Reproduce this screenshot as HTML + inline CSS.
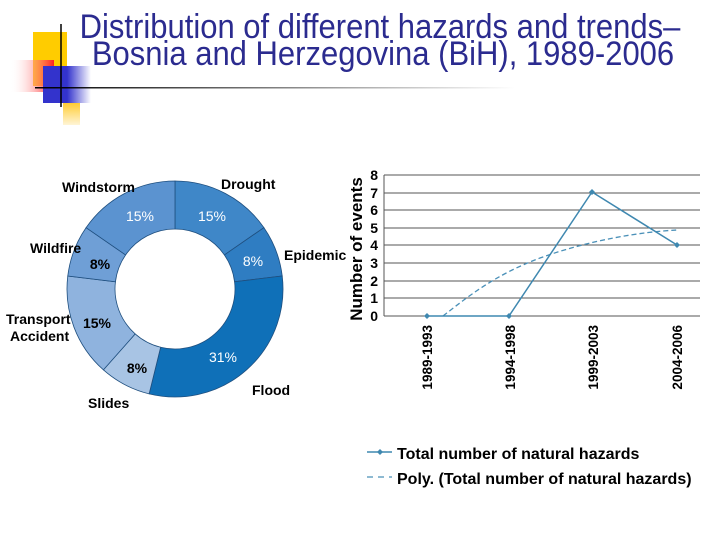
<!DOCTYPE html><html><head><meta charset="utf-8"><style>
body{margin:0;width:720px;height:540px;background:#fff;overflow:hidden;font-family:"Liberation Sans",sans-serif}
</style></head><body>
<svg width="720" height="540" xmlns="http://www.w3.org/2000/svg" font-family="Liberation Sans, sans-serif">
<defs>
<linearGradient id="rg" x1="0" x2="1"><stop offset="0" stop-color="#fff" stop-opacity="0"/><stop offset="1" stop-color="#f22"/></linearGradient>
<linearGradient id="bg" x1="0" x2="1"><stop offset="0.5" stop-color="#3333cc"/><stop offset="1" stop-color="#3333cc" stop-opacity="0"/></linearGradient>
<linearGradient id="yg" x1="0" y1="0" x2="0" y2="1"><stop offset="0" stop-color="#fc3"/><stop offset="1" stop-color="#fc3" stop-opacity="0.2"/></linearGradient>
<linearGradient id="hl" x1="0" x2="1"><stop offset="0" stop-color="#000"/><stop offset="1" stop-color="#000" stop-opacity="0"/></linearGradient>
</defs>
<rect x="33" y="32" width="34" height="54" fill="#fc0"/>
<rect x="63" y="103" width="17" height="22" fill="url(#yg)"/>
<rect x="10" y="60" width="44" height="32" fill="url(#rg)"/>
<rect x="43" y="66" width="48" height="37" fill="url(#bg)"/>
<line x1="61" y1="24" x2="61" y2="107" stroke="#000" stroke-width="1.5"/>
<rect x="35" y="87" width="480" height="1.5" fill="url(#hl)"/>
<g fill="#2b2b8f" font-size="31" text-anchor="middle">
<text transform="translate(380,38) scale(1,1.1)">Distribution of different hazards and trends–</text>
<text transform="translate(383,65) scale(1,1.1)">Bosnia and Herzegovina (BiH), 1989-2006</text>
</g>
<g id="donut" stroke="#1f4f7f" stroke-width="0.8"></g>
<g font-size="14" font-weight="bold" fill="#000">
<text x="62" y="192">Windstorm</text>
<text x="221" y="189">Drought</text>
<text x="284" y="260">Epidemic</text>
<text x="30" y="253">Wildfire</text>
<text x="6" y="324">Transport</text>
<text x="10" y="341">Accident</text>
<text x="88" y="408">Slides</text>
<text x="252" y="395">Flood</text>
</g>
<g font-size="14" text-anchor="middle">
<text x="140" y="221" fill="#fff">15%</text>
<text x="212" y="221" fill="#fff">15%</text>
<text x="253" y="266" fill="#fff">8%</text>
<text x="223" y="362" fill="#fff">31%</text>
<text x="137" y="373" fill="#000" font-weight="bold">8%</text>
<text x="97" y="328" fill="#000" font-weight="bold">15%</text>
<text x="100" y="269" fill="#000" font-weight="bold">8%</text>
</g>
<g stroke="#555" stroke-width="1">
<line x1="384" y1="175" x2="700" y2="175"/><line x1="384" y1="193" x2="700" y2="193"/>
<line x1="384" y1="210" x2="700" y2="210"/><line x1="384" y1="228" x2="700" y2="228"/>
<line x1="384" y1="245" x2="700" y2="245"/><line x1="384" y1="263" x2="700" y2="263"/>
<line x1="384" y1="281" x2="700" y2="281"/><line x1="384" y1="298" x2="700" y2="298"/>
<line x1="384" y1="316" x2="700" y2="316"/><line x1="384" y1="175" x2="384" y2="316"/>
</g>
<g font-size="14" font-weight="bold" text-anchor="end">
<text x="378" y="180">8</text><text x="378" y="198">7</text><text x="378" y="215">6</text><text x="378" y="233">5</text><text x="378" y="250">4</text><text x="378" y="268">3</text><text x="378" y="286">2</text><text x="378" y="303">1</text><text x="378" y="321">0</text>
</g>
<text transform="translate(362,249) rotate(-90)" font-size="17" font-weight="bold" text-anchor="middle">Number of events</text>
<g font-size="13.5" font-weight="bold" text-anchor="end">
<text transform="translate(432,325) rotate(-90)">1989-1993</text>
<text transform="translate(515,325) rotate(-90)">1994-1998</text>
<text transform="translate(598,325) rotate(-90)">1999-2003</text>
<text transform="translate(682,325) rotate(-90)">2004-2006</text>
</g>
<path d="M443,316 C470,295 495,275 540,258 C590,240 640,232 677,230" fill="none" stroke="#4a90b8" stroke-width="1.3" stroke-dasharray="5,3"/>
<polyline points="427,316 509,316 592,192 677,245" fill="none" stroke="#3f88b0" stroke-width="1.5"/>
<g fill="#3f88b0"><path d="M427,313l3,3-3,3-3-3z"/><path d="M509,313l3,3-3,3-3-3z"/><path d="M592,189l3,3-3,3-3-3z"/><path d="M677,242l3,3-3,3-3-3z"/></g>
<line x1="367" y1="452" x2="392" y2="452" stroke="#3f88b0" stroke-width="1.5"/><path d="M380,449l3,3-3,3-3-3z" fill="#3f88b0"/>
<line x1="367" y1="477" x2="392" y2="477" stroke="#4a90b8" stroke-width="1.3" stroke-dasharray="6,5"/>
<g font-size="16" font-weight="bold"><text x="397" y="459">Total number of natural hazards</text><text x="397" y="484">Poly. (Total number of natural hazards)</text></g>
</svg>
<script>
var g=document.getElementById('donut');var cx=175,cy=289,R=108,r=60;
var d=[[2,'#3f87c8'],[1,'#2f7dc2'],[4,'#0f70b8'],[1,'#a8c4e4'],[2,'#8fb3de'],[1,'#6f9fd6'],[2,'#5b93d0']];
var a=0;d.forEach(function(s){var a1=a+s[0]/13*2*Math.PI;function p(rad,t){return [cx+rad*Math.sin(t),cy-rad*Math.cos(t)];}
var l=(a1-a)>Math.PI?1:0;var A=p(R,a),B=p(R,a1),C=p(r,a1),D=p(r,a);
var e=document.createElementNS('http://www.w3.org/2000/svg','path');
e.setAttribute('d','M'+A+'A'+R+','+R+' 0 '+l+' 1 '+B+'L'+C+'A'+r+','+r+' 0 '+l+' 0 '+D+'Z');e.setAttribute('fill',s[1]);g.appendChild(e);a=a1;});
</script>
</body></html>
